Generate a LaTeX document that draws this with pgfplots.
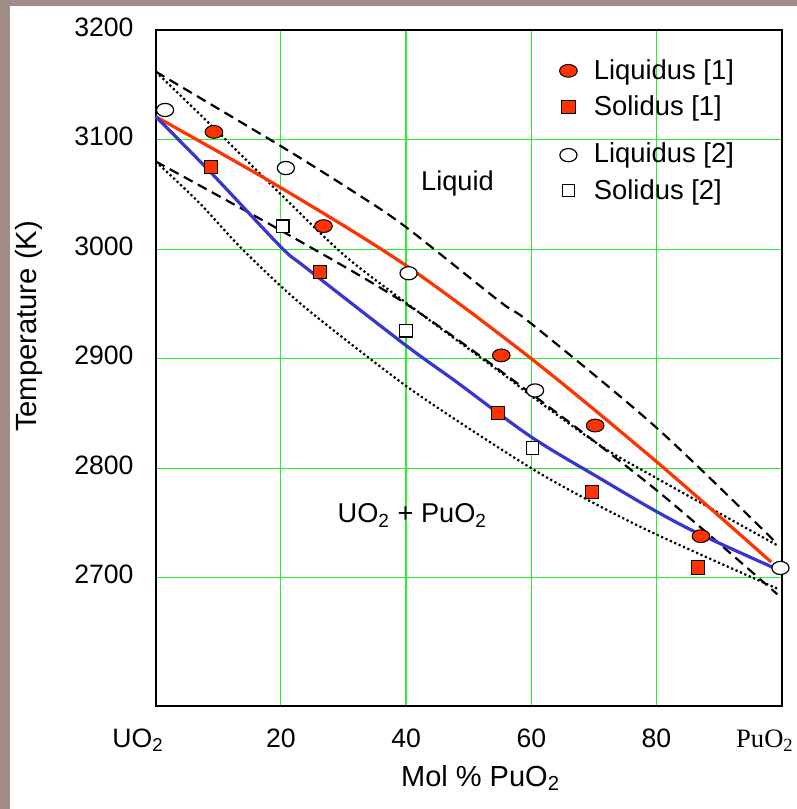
\documentclass[border=0pt]{standalone}
\usepackage{pgfplots}
\pgfplotsset{compat=1.18}
\usepackage{fontspec}
\setmainfont{Liberation Sans}
\newfontfamily\serifTNR{Liberation Serif}
\definecolor{bgtex}{RGB}{160,140,135}
\definecolor{gridgreen}{RGB}{40,240,40}
\definecolor{liqred}{RGB}{255,51,0}
\definecolor{solblue}{RGB}{55,55,205}
\begin{document}
\begin{tikzpicture}
\fill[bgtex] (-77.85pt,-51.5pt) rectangle (320.65pt,353pt);
\fill[white] (-72.85pt,-51.5pt) rectangle (320.65pt,350pt);
\begin{axis}[
  width=313pt, height=338pt, scale only axis,
  xmin=0, xmax=100, ymin=2583, ymax=3200,
  clip=false,
  axis line style={line width=1pt},
  xtick={0,20,40,60,80,100},
  xticklabels={UO\textsubscript{2}\rule{17.7pt}{0pt},20,40,60,80,{\serifTNR PuO\textsubscript{2}}\rule{16.7pt}{0pt}},
  ytick={2700,2800,2900,3000,3100,3200},
  major tick length=0pt,
  grid=major,
  major grid style={gridgreen, line width=0.6pt},
  tick label style={font=\fontsize{13.3}{15}\selectfont},
  typeset ticklabels with strut,
  xticklabel style={yshift=-6.6pt},
  yticklabel style={xshift=-7.6pt},
  /pgf/number format/assume math mode=true,
  /pgf/number format/1000 sep={},
  xlabel={Mol \% PuO\textsubscript{2}},
  xlabel style={at={(axis description cs:0.519,-0.1065)}, anchor=center, font=\fontsize{14.5}{17}\selectfont},
  ylabel={Temperature (K)},
  ylabel style={at={(axis description cs:-0.2024,0.5614)}, anchor=center, font=\fontsize{14.6}{17}\selectfont},
  legend style={draw=none, fill=none, at={(rel axis cs:0.635,0.9645)}, anchor=north west,
    font=\fontsize{13.7}{16}\selectfont, row sep=5.8pt, column sep=7.8pt, nodes={inner sep=0.5pt}},
  legend cell align=left,
]
% upper dashed
\addplot[black, line width=1.1pt, dash pattern=on 5pt off 3pt, smooth, forget plot] coordinates {
 (0,3162) (20,3094) (32,3051) (40,3020) (55,2952) (60,2932) (80,2837) (99.3,2731)};
% lower dashed
\addplot[black, line width=1.1pt, dash pattern=on 5pt off 3pt, smooth, forget plot] coordinates {
 (0,3080) (20,3017) (40,2950) (60,2868) (80,2780) (99.3,2685)};
% upper dotted
\addplot[black, line width=1.1pt, dash pattern=on 1.1pt off 1.3pt, smooth, forget plot] coordinates {
 (0,3162) (9.4,3110) (20,3050) (30,2995) (40,2951) (55.7,2885) (60,2866) (71.2,2820) (80,2791) (99.5,2729)};
% lower dotted
\addplot[black, line width=1.1pt, dash pattern=on 1.1pt off 1.3pt, smooth, forget plot] coordinates {
 (0,3080) (7,3042) (14,2999) (23.6,2948) (38.6,2881) (48,2844) (60,2800) (68.4,2773) (80,2739.5) (99.5,2689.6)};
% liquidus fit (red)
\addplot[liqred, line width=1.6pt, smooth, forget plot] coordinates {
 (0,3121) (20,3056) (40,2985) (60,2900) (80,2806) (98.3,2714.5)};
% solidus fit (blue)
\addplot[solblue, line width=1.6pt, smooth, forget plot] coordinates {
 (0,3121) (8.8,3070) (20,3002) (24,2983) (40,2912) (48,2879) (60,2828.5) (71.2,2790) (80,2760.5) (87,2739.6) (98.8,2709)};
% markers
\addplot[only marks, mark=*, mark size=3.2pt, mark options={xscale=1.38, fill=liqred, draw=black, line width=0.5pt}] coordinates {
 (9.3,3107) (26.8,3021) (55.2,2903) (70.2,2839) (87.1,2738)};
\addlegendentry{Liquidus [1]}
\addplot[only marks, mark=square*, mark size=3.3pt, mark options={fill=liqred, draw=black, line width=0.5pt}] coordinates {
 (8.8,3075) (26.2,2979) (54.7,2850.5) (69.7,2778) (86.6,2709.5)};
\addlegendentry{Solidus [1]}
\addplot[only marks, mark=*, mark size=3.3pt, mark options={xscale=1.3, fill=white, draw=black, line width=0.6pt},
  legend image post style={yshift=-3.08pt}] coordinates {
 (1.5,3127) (20.8,3074) (40.4,2978) (60.6,2871) (99.8,2709)};
\addlegendentry{\rule{0pt}{15.15pt}Liquidus [2]}
\addplot[only marks, mark=square*, mark size=3.1pt, mark options={fill=white, draw=black, line width=0.6pt}] coordinates {
 (20.3,3021) (40,2925.5) (60.2,2818.5)};
\addlegendentry{Solidus [2]}
\node[font=\fontsize{13.6}{16}\selectfont] at (axis cs:48.2,3060.3) {Liquid};
\node[font=\fontsize{13.6}{16}\selectfont] at (axis cs:41,2757) {UO\textsubscript{2} + PuO\textsubscript{2}};
\end{axis}
\pgfresetboundingbox
\path[use as bounding box] (-77.85pt,-51.5pt) rectangle (320.65pt,353pt);
\end{tikzpicture}
\end{document}
